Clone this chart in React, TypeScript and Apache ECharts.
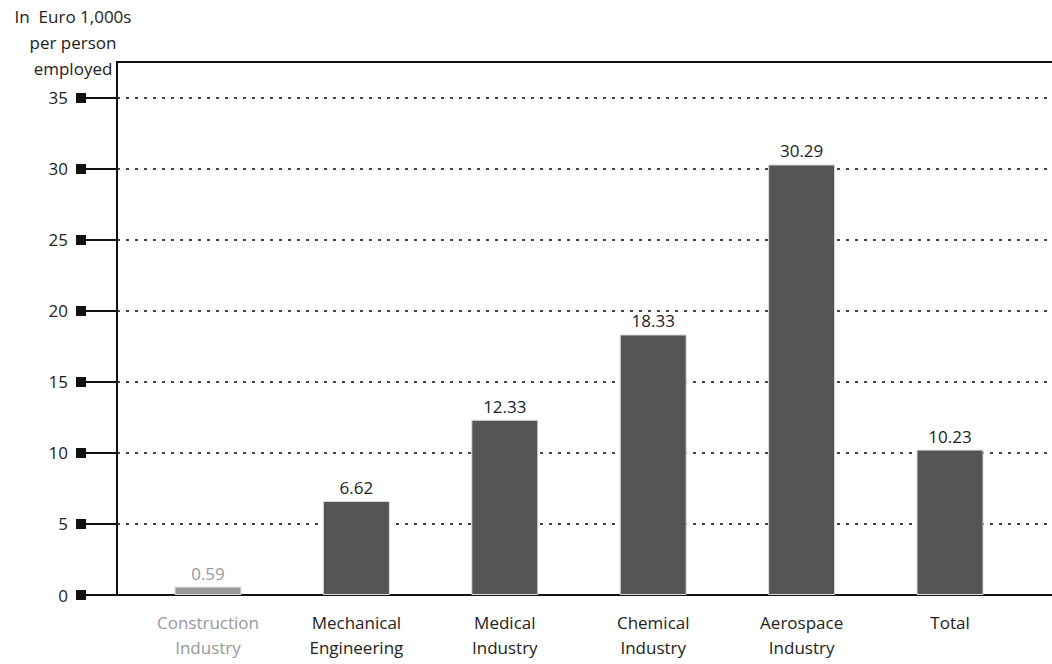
import React, { useEffect, useRef } from "react";
import * as echarts from "echarts";

const categories = ["Construction\nIndustry", "Mechanical\nEngineering", "Medical\nIndustry", "Chemical\nIndustry", "Aerospace\nIndustry", "Total"];
const values = [0.59, 6.62, 12.33, 18.33, 30.29, 10.23];
const highlightGrey = [true, false, false, false, false, false];
const yTicks = [0, 5, 10, 15, 20, 25, 30, 35];
const xPositions = [0, 1, 2, 3, 4, 5];

const FONT = "'Open Sans', sans-serif";

export default function App() {
  const ref = useRef<HTMLDivElement>(null);
  useEffect(() => {
    if (!ref.current) return;
    const chart = echarts.init(ref.current, undefined, { renderer: "svg" });
    const yCommon = { type: "value", min: 0, max: 37.5, interval: 5 };
    chart.setOption({
      animation: false,
      backgroundColor: "#ffffff",
      textStyle: { fontFamily: FONT },
      grid: { left: 117, right: 0, top: 62, bottom: 69 },
      graphic: [
        {
          type: "text",
          x: 73,
          y: 3,
          style: {
            text: "In  Euro 1,000s\nper person\nemployed",
            textAlign: "center",
            fill: "#222",
            font: `17px ${FONT}`,
            lineHeight: 26,
          },
        },
      ],
      xAxis: [
        {
          type: "value",
          min: -0.613,
          max: 5.687,
          position: "bottom",
          axisLine: { show: true, onZero: false, lineStyle: { color: "#111", width: 2 } },
          axisTick: { show: false },
          splitLine: { show: false },
          axisLabel: {
            customValues: xPositions,
            margin: 15,
            fontSize: 17,
            lineHeight: 25,
            fontFamily: FONT,
            color: "#222",
            formatter: (v: number) => {
              const i = Math.round(v);
              const name = categories[i] || "";
              return highlightGrey[i]
                ? name.split("\n").map((s) => `{g|${s}}`).join("\n")
                : name;
            },
            rich: { g: { color: "#999", fontSize: 17, lineHeight: 25, fontFamily: FONT } },
          },
        },
        {
          type: "value",
          min: -0.613,
          max: 5.687,
          position: "top",
          axisLine: { show: true, onZero: false, lineStyle: { color: "#111", width: 2 } },
          axisTick: { show: false },
          axisLabel: { show: false },
          splitLine: { show: false },
        },
      ],
      yAxis: [
        {
          ...yCommon,
          position: "left",
          axisLine: { show: true, onZero: false, lineStyle: { color: "#111", width: 2 } },
          axisTick: { show: true, customValues: yTicks, length: 31, lineStyle: { color: "#111", width: 2 } },
          axisLabel: { show: false },
          splitLine: { show: true, lineStyle: { color: "#444", width: 2, type: [3, 6] } },
        },
        {
          ...yCommon,
          position: "left",
          offset: 31,
          axisLine: { show: false, onZero: false },
          axisTick: { show: true, customValues: yTicks, length: 10, lineStyle: { color: "#111", width: 10 } },
          axisLabel: {
            customValues: yTicks,
            margin: 18,
            fontSize: 17,
            color: "#222",
            fontFamily: FONT,
          },
          splitLine: { show: false },
        },
      ],
      series: [
        {
          type: "bar",
          xAxisIndex: 0,
          yAxisIndex: 0,
          barWidth: 67,
          data: values.map((v, i) => ({
            value: [xPositions[i], v],
            itemStyle: {
              color: highlightGrey[i] ? "#999999" : "#555555",
              borderColor: "#dddddd",
              borderWidth: 1,
            },
            label: { color: highlightGrey[i] ? "#999" : "#222" },
          })),
          label: {
            show: true,
            position: "top",
            distance: 5,
            fontSize: 17,
            fontFamily: FONT,
            formatter: (p: any) => values[p.dataIndex].toFixed(2),
          },
        },
      ],
    });
    return () => chart.dispose();
  }, []);
  return <div ref={ref} style={{ width: 1052, height: 664, position: "absolute", left: 0, top: 0 }} />;
}
